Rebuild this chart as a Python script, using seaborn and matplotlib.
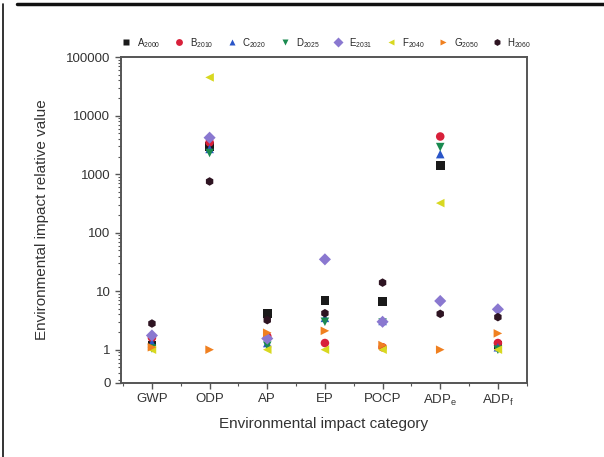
import matplotlib
matplotlib.use("Agg")
import matplotlib.pyplot as plt
from matplotlib.lines import Line2D
from matplotlib.ticker import FixedLocator, LogLocator, NullFormatter
import seaborn as sns
import pandas as pd

categories = ["GWP", "ODP", "AP", "EP", "POCP", "ADP$_e$", "ADP$_f$"]
series = ["A$_{2000}$", "B$_{2010}$", "C$_{2020}$", "D$_{2025}$",
          "E$_{2031}$", "F$_{2040}$", "G$_{2050}$", "H$_{2060}$"]

A_vals = [1.2, 3000, 4.2, 7.0, 6.6, 1400, 1.2]
B_vals = [1.6, 3500, 1.7, 1.3, 1.1, 4400, 1.3]
C_vals = [1.3, 2700, 1.3, 3.5, 3.1, 2200, 1.1]
D_vals = [1.05, 2300, 1.17, 3.0, 2.9, 2900, 1.0]
E_vals = [1.75, 4200, 1.55, 35, 3.0, 6.8, 4.9]
F_vals = [1.0, 45000, 1.0, 1.0, 1.0, 320, 1.0]
G_vals = [1.1, 1.0, 1.95, 2.1, 1.2, 1.0, 1.9]
H_vals = [2.8, 750, 3.2, 4.2, 14, 4.1, 3.6]

all_vals = [A_vals, B_vals, C_vals, D_vals, E_vals, F_vals, G_vals, H_vals]

colors = ["#1a1a1a", "#d8203a", "#2a55c8", "#1a8a50", "#8a78d0",
          "#d8d820", "#f08020", "#2e1422"]
markers = ["s", "o", "^", "v", "D", "<", ">", "h"]

rows = []
for s, vals in zip(series, all_vals):
    for c, v in zip(categories, vals):
        rows.append({"category": c, "series": s, "value": v})
df = pd.DataFrame(rows)

sns.set_style("white")
plt.rcParams["font.family"] = ["Liberation Sans", "DejaVu Sans"]
plt.rcParams["mathtext.fontset"] = "custom"
plt.rcParams["mathtext.rm"] = "Liberation Sans"
plt.rcParams["mathtext.it"] = "Liberation Sans"

fig = plt.figure(figsize=(6.04, 4.57), dpi=100)
ax = fig.add_axes([0.200, 0.162, 0.673, 0.713])

sns.scatterplot(data=df, x="category", y="value", hue="series", style="series",
                palette=dict(zip(series, colors)), markers=dict(zip(series, markers)),
                hue_order=series, style_order=series, s=38, edgecolor="none",
                ax=ax, legend=True, zorder=3)

ax.set_yscale("log")
ybottom = 0.27
ax.set_ylim(ybottom, 100000)
ax.set_xlim(-0.54, 6.51)
ax.yaxis.set_major_locator(FixedLocator([ybottom, 1, 10, 100, 1000, 10000, 100000]))
ax.set_yticklabels(["0", "1", "10", "100", "1000", "10000", "100000"])
ax.yaxis.set_minor_locator(LogLocator(base=10, subs=range(2, 10)))
ax.yaxis.set_minor_formatter(NullFormatter())
ax.xaxis.set_minor_locator(FixedLocator([i + 0.5 for i in range(-1, 7)]))

for sp in ax.spines.values():
    sp.set_color("#555555")
    sp.set_linewidth(1.4)

ax.tick_params(axis="both", which="major", direction="out", length=4, width=1,
               color="#555555", labelsize=9.5, labelcolor="#333333", left=True, bottom=True)
ax.tick_params(axis="both", which="minor", direction="out", length=2.5, width=0.8,
               color="#555555", left=True, bottom=True)

ax.set_xlabel("Environmental impact category", fontsize=11, color="#333333", labelpad=6)
ax.set_ylabel("Environmental impact relative value", fontsize=11, color="#333333", labelpad=12)

handles, labels = ax.get_legend_handles_labels()
ax.legend(handles, labels, ncol=8, loc="lower center", bbox_to_anchor=(0.5, 1.005),
          frameon=False, fontsize=7, handletextpad=0.1, columnspacing=0.9,
          markerscale=0.8, borderaxespad=0.2)

fig.add_artist(Line2D([17 / 604, 1.0], [1 - 4 / 457, 1 - 4 / 457],
                      transform=fig.transFigure, color="#111111", linewidth=2.5))
fig.add_artist(Line2D([3 / 604, 3 / 604], [1 - 4 / 457, 0.0],
                      transform=fig.transFigure, color="#111111", linewidth=1.2))

fig.savefig("out.png", dpi=100)
